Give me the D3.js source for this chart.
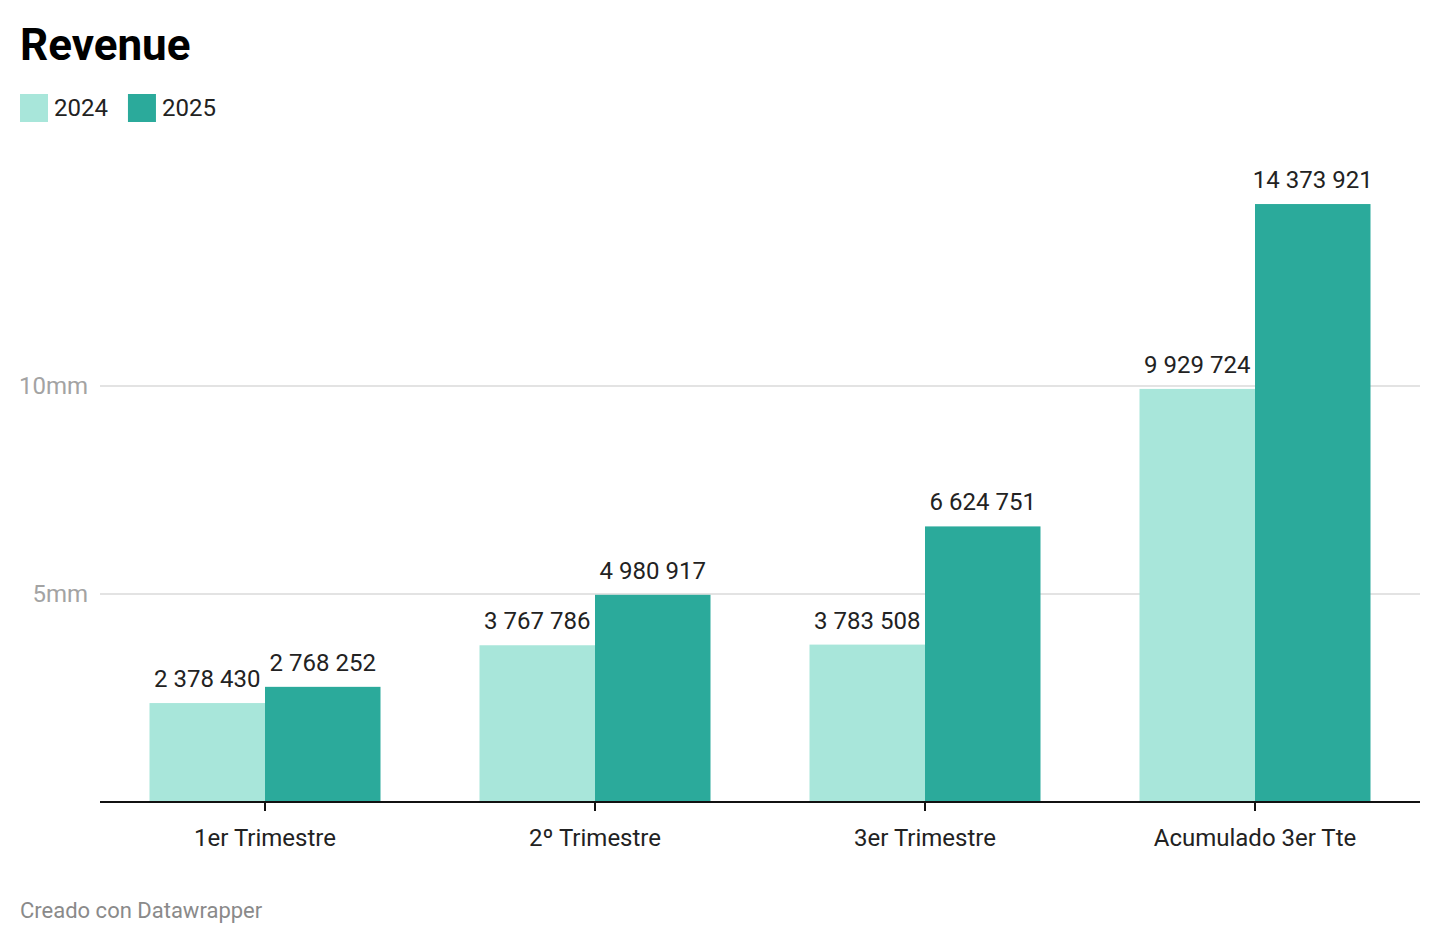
<!DOCTYPE html>
<html>
<head>
<meta charset="utf-8">
<script src="https://cdn.jsdelivr.net/npm/d3@7"></script>
<style>
  body { margin: 0; background: #fff; }
  svg text { font-family: Roboto, sans-serif; }
</style>
</head>
<body>
<div id="chart"></div>
<script>
var categories = ["1er Trimestre", "2º Trimestre", "3er Trimestre", "Acumulado 3er Tte"];
var seriesNames = ["2024", "2025"];
var values2024 = [2378430, 3767786, 3783508, 9929724];
var values2025 = [2768252, 4980917, 6624751, 14373921];
var yTicks = [5000000, 10000000];
var yTickLabels = ["5mm", "10mm"];
var colors = ["#a8e6da", "#2baa9b"];

var width = 1440, height = 944;
var svg = d3.select("#chart").append("svg")
    .attr("width", width).attr("height", height);

// title
svg.append("text").attr("x", 20).attr("y", 60)
    .attr("font-size", 44).attr("font-weight", 700).attr("fill", "#000")
    .text("Revenue");

// legend
var lx = 20;
seriesNames.forEach(function(name, k) {
  svg.append("rect").attr("x", lx).attr("y", 94).attr("width", 28).attr("height", 28)
      .attr("fill", colors[k]);
  var t = svg.append("text").attr("x", lx + 34).attr("y", 116)
      .attr("font-size", 24).attr("fill", "#222").text(name);
  lx += 34 + t.node().getComputedTextLength() + 20;
});

var x0 = d3.scaleBand().domain(categories).range([100, 1420])
    .paddingInner(0.3).paddingOuter(0.15);
var x1 = d3.scaleBand().domain(seriesNames).range([0, x0.bandwidth()]);
var y = d3.scaleLinear().domain([0, 10000000]).range([802, 386]);

// gridlines + y labels
var grid = svg.append("g");
yTicks.forEach(function(v, k) {
  grid.append("line").attr("x1", 100).attr("x2", 1420)
      .attr("y1", y(v)).attr("y2", y(v))
      .attr("stroke", "#e3e3e3").attr("stroke-width", 2);
  grid.append("text").attr("x", 88).attr("y", y(v) + 8)
      .attr("text-anchor", "end").attr("font-size", 24).attr("fill", "#a3a3a3")
      .text(yTickLabels[k]);
});

var data = categories.map(function(c, i) {
  return { cat: c, vals: [values2024[i], values2025[i]] };
});

var groups = svg.selectAll("g.grp").data(data).enter().append("g")
    .attr("class", "grp")
    .attr("transform", function(d) { return "translate(" + x0(d.cat) + ",0)"; });

groups.selectAll("rect").data(function(d) { return d.vals; }).enter().append("rect")
    .attr("x", function(d, k) { return x1(seriesNames[k]); })
    .attr("y", function(d) { return y(d); })
    .attr("width", x1.bandwidth())
    .attr("height", function(d) { return y(0) - y(d); })
    .attr("fill", function(d, k) { return colors[k]; });

groups.selectAll("text.val").data(function(d) { return d.vals; }).enter().append("text")
    .attr("class", "val")
    .attr("x", function(d, k) { return x1(seriesNames[k]) + x1.bandwidth() / 2; })
    .attr("y", function(d) { return y(d) - 16; })
    .attr("text-anchor", "middle").attr("font-size", 24).attr("fill", "#222")
    .text(function(d) { return d3.format(",")(d).replace(/,/g, " "); });

// x axis
var xAxis = svg.append("g").attr("transform", "translate(0,802)")
    .call(d3.axisBottom(x0).tickSize(9).tickSizeOuter(0).tickPadding(18));
xAxis.select(".domain").attr("stroke", "#111").attr("stroke-width", 2)
    .attr("d", "M100,0H1420");
xAxis.selectAll(".tick line").attr("stroke", "#111").attr("stroke-width", 2);
xAxis.selectAll(".tick text").attr("font-size", 24).attr("fill", "#222")
    .attr("font-family", "Roboto, sans-serif");

// footer
svg.append("text").attr("x", 20).attr("y", 918)
    .attr("font-size", 22).attr("fill", "#8a8a8a")
    .text("Creado con Datawrapper");
</script>
</body>
</html>
